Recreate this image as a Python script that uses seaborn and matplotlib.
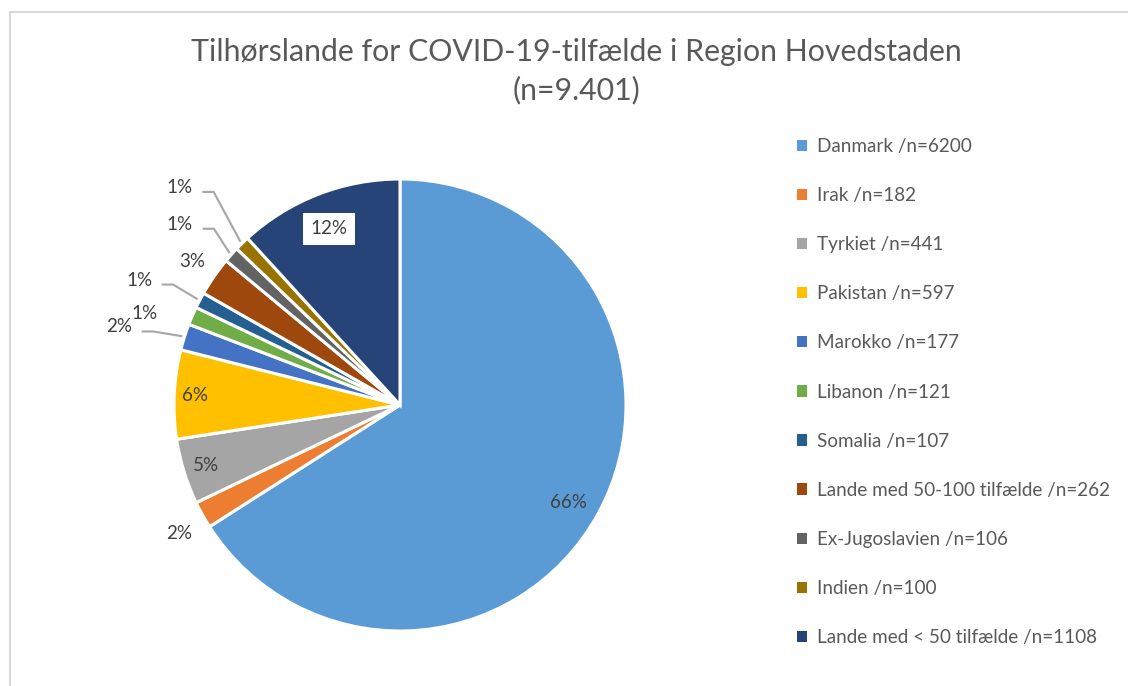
import numpy as np
import matplotlib
matplotlib.use("Agg")
import matplotlib.pyplot as plt
import seaborn as sns
from matplotlib.patches import Rectangle

categories = ["Danmark", "Irak", "Tyrkiet", "Pakistan", "Marokko", "Libanon",
              "Somalia", "Lande med 50-100 tilfælde", "Ex-Jugoslavien", "Indien",
              "Lande med < 50 tilfælde"]
counts = [6200, 182, 441, 597, 177, 121, 107, 262, 106, 100, 1108]
pct_labels = ["66%", "2%", "5%", "6%", "2%", "1%", "1%", "3%", "1%", "1%", "12%"]
title_text = "Tilhørslande for COVID-19-tilfælde i Region Hovedstaden\n(n=9.401)"

colors = ["#5B9BD5", "#ED7D31", "#A5A5A5", "#FFC000", "#4472C4", "#70AD47",
          "#255E91", "#9E480E", "#636363", "#997300", "#264478"]
# label radius (style) and whether a leader line is drawn
label_r = [0.86, 1.13, 0.90, 0.91, 1.29, 1.20, 1.28, 1.12, 1.26, 1.37, 0.84]
leader = [False, False, False, False, True, False, True, False, True, True, False]
angle_shift = [-1.5, 1.0, 0, 0, 2.0, 3.5, 2.0, 0, 2.3, 1.0, 0.7]

sns.set_theme(style="white")
plt.rcParams['font.family'] = ['Lato', 'DejaVu Sans']

W, H = 1128, 686
fig = plt.figure(figsize=(W / 100, H / 100), dpi=100)
fig.patch.set_facecolor("white")

# outer frame
fig.add_artist(Rectangle((10 / W, -0.01), 1.2, (686 - 12) / H + 0.01, transform=fig.transFigure,
                         fill=False, edgecolor="#D9D9D9", linewidth=1.5))

cx, cy, R = 400, 405, 226
box = 250
ax = fig.add_axes([(cx - box) / W, (H - cy - box) / H, 2 * box / W, 2 * box / H])

wedges, _ = ax.pie(counts, colors=colors, startangle=90, counterclock=False,
                   radius=1.0, wedgeprops=dict(edgecolor="white", linewidth=2.2))
lim = box / R
ax.set_xlim(-lim, lim)
ax.set_ylim(-lim, lim)
ax.set_aspect("equal")
ax.axis("off")

txtc = "#404040"
for i, w in enumerate(wedges):
    mid = np.deg2rad((w.theta1 + w.theta2) / 2 + angle_shift[i])
    r = label_r[i]
    x, y = r * np.cos(mid), r * np.sin(mid)
    kw = dict(ha="center", va="center", fontsize=13.5, color=txtc)
    if i == len(wedges) - 1:
        kw["bbox"] = dict(boxstyle="square,pad=0.4", fc="white", ec="none")
    ax.text(x, y, pct_labels[i], **kw)
    if leader[i]:
        m0 = np.deg2rad((w.theta1 + w.theta2) / 2)
        ex, ey = 1.01 * np.cos(m0), 1.01 * np.sin(m0)
        sx = x + 0.1
        elbow_x = sx + 0.05
        ax.plot([sx, elbow_x, ex], [y - 0.02, y - 0.02, ey], color="#A6A6A6",
                lw=1.5, solid_capstyle="butt", clip_on=False)

fig.text(576 / W, 1 - 71 / H, title_text, ha="center", va="center", fontsize=21.8,
         color="#595959", linespacing=1.4)

labels = [f"{c} /n={n}" for c, n in zip(categories, counts)]
leg = fig.legend(wedges, labels, loc="upper left", bbox_to_anchor=(780 / W, 1 - 121 / H),
                 frameon=False, fontsize=13.6, handlelength=0.55, handleheight=0.55,
                 handletextpad=0.5, labelspacing=1.70, labelcolor="#595959")
for h in leg.legend_handles:
    h.set_edgecolor("none")

fig.savefig("out.png", dpi=100, facecolor="white")
